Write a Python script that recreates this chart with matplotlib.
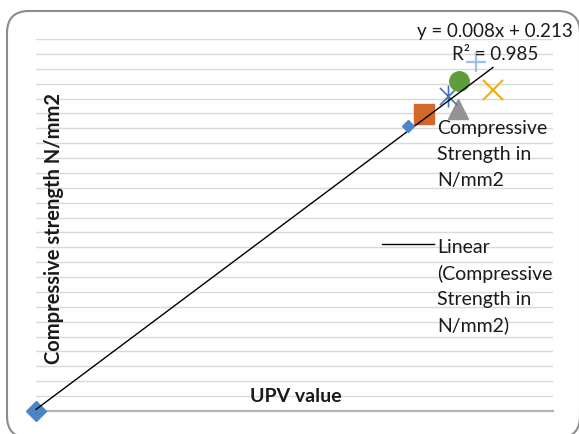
import matplotlib
matplotlib.use('Agg')
import matplotlib.pyplot as plt
from matplotlib.patches import FancyBboxPatch
from matplotlib.lines import Line2D
from matplotlib.path import Path
from matplotlib.transforms import IdentityTransform

# UPV readings and the matching compressive strength (N/mm2)
upv = [0, 4880, 5305, 5745, 5180, 5320, 5530]
strength = [0.0, 39.9, 40.6, 43.1, 42.3, 44.4, 46.9]

# linear trendline reported for the series
slope = 0.008
intercept = 0.213
r_squared = 0.985

series_label = ['Compressive', 'Strength in', 'N/mm2']
trend_label = ['Linear', '(Compressive', 'Strength in', 'N/mm2)']
x_title = 'UPV value'
y_title = 'Compressive strength N/mm2'

W, H = 579, 435
FONT = 'Lato'
TXT = '#1a1a1a'

# Excel "star" marker: an x with a vertical bar through it
star = Path([(-1, -1), (1, 1), (-1, 1), (1, -1), (0, -1.3), (0, 1.3)],
            [Path.MOVETO, Path.LINETO, Path.MOVETO, Path.LINETO, Path.MOVETO, Path.LINETO])

# point styles cycle the way Excel varies colours by point
styles = [
    dict(marker='D', ms=10, mfc='#4a86c6', mec='#4a86c6'),
    dict(marker='s', ms=14, mfc='#d2692a', mec='#d2692a'),
    dict(marker='^', ms=14, mfc='#939393', mec='#939393'),
    dict(marker='x', ms=14, mec='#efb313', mew=1.6),
    dict(marker=star, ms=16, mec='#4472c4', mew=1.2),
    dict(marker='o', ms=14, mfc='#5f9c3b', mec='#5f9c3b'),
    dict(marker='+', ms=14, mec='#9dc3e6', mew=1.7),
]


def px(x, y):
    return x / W, 1 - y / H


fig = plt.figure(figsize=(W / 100, H / 100), dpi=100)
ax = fig.add_axes([36 / W, (H - 412) / H, 517 / W, 372 / H])

ax.set_xlim(0, 6500)
ax.set_ylim(0, 50)
ax.set_yticks(range(0, 51, 2))
ax.set_xticks([])
ax.tick_params(left=False, labelleft=False)
ax.yaxis.grid(True, color='#d9d9d9', lw=1.0)
ax.set_axisbelow(True)
for side in ['left', 'right', 'top']:
    ax.spines[side].set_visible(False)
ax.spines['bottom'].set_color('#b3b3b3')
ax.spines['bottom'].set_linewidth(1.6)

for x, y, st in zip(upv, strength, styles):
    ax.plot([x], [y], linestyle='none', clip_on=False, zorder=3, **st)

xs = [min(upv), max(upv)]
ax.plot(xs, [slope * v + intercept for v in xs], color='black', lw=1.0,
        clip_on=False, zorder=4)

# trendline equation
fig.text(*px(495, 31), f'y = {slope:.3f}x + {intercept:.3f}', ha='center',
         va='center', fontsize=13.5, family=FONT, color=TXT)
fig.text(*px(495, 55), f'R² = {r_squared:.3f}', ha='center', va='center',
         fontsize=13.5, family=FONT, color=TXT)

# axis titles
fig.text(*px(54, 229), y_title, rotation=90, ha='center', va='center',
         fontsize=14.5, fontweight='bold', family=FONT, color=TXT)
fig.text(*px(296, 397), x_title, ha='center', va='center',
         fontsize=14, fontweight='bold', family=FONT, color=TXT)

# legend, drawn by hand so the keys sit on the first line of each entry
fig.add_artist(Line2D([px(408, 127)[0]], [px(408, 127)[1]], transform=fig.transFigure,
                      marker='D', ms=6.5, color='#4a86c6', linestyle='none'))
for i, line in enumerate(series_label):
    fig.text(*px(437, 129 + 25.7 * i), line, va='center', fontsize=14,
             family=FONT, color=TXT)
fig.add_artist(Line2D([px(382, 0)[0], px(434, 0)[0]], [px(0, 245)[1]] * 2,
                      transform=fig.transFigure, color='black', lw=1.0))
for i, line in enumerate(trend_label):
    fig.text(*px(437, 248 + 25.7 * i), line, va='center', fontsize=14,
             family=FONT, color=TXT)

# rounded chart border
fig.add_artist(FancyBboxPatch((7, -4), 573, 427,
                              boxstyle='round,pad=0,rounding_size=22',
                              transform=IdentityTransform(), fill=False,
                              edgecolor='#8c8c8c', lw=1.5))

fig.savefig('out.png', dpi=100)
